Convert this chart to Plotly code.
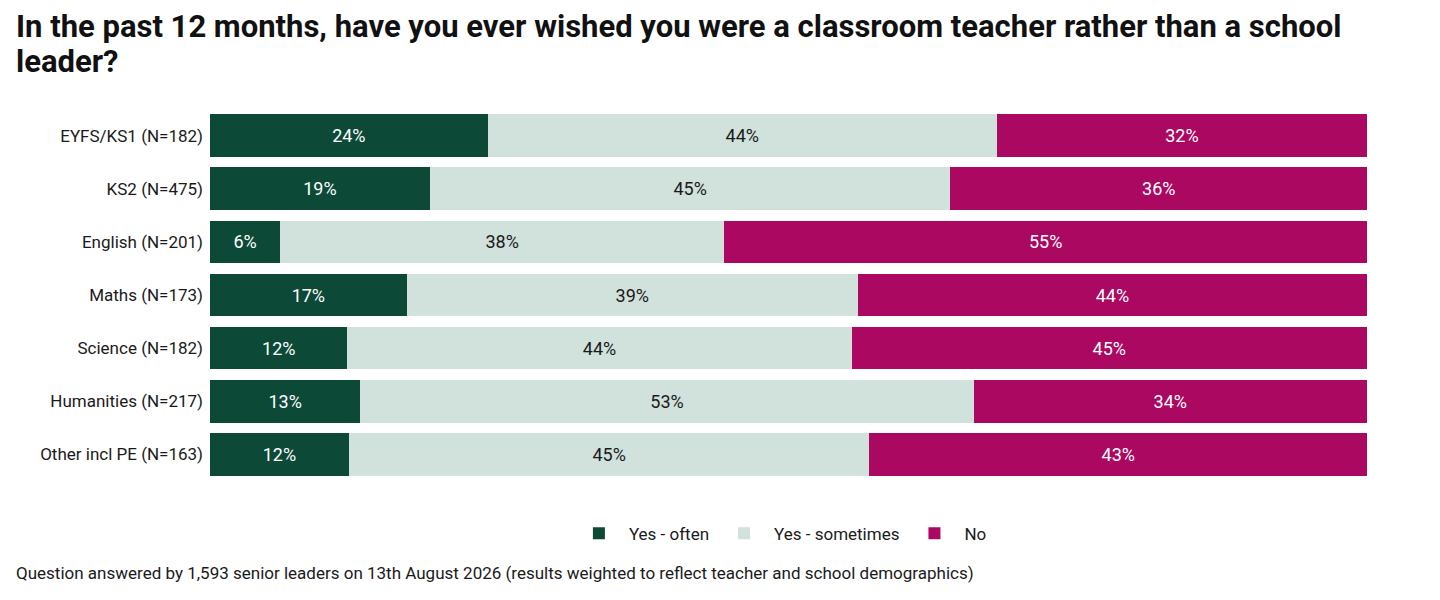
import plotly.graph_objects as go

categorias = ["EYFS/KS1 (N=182)", "KS2 (N=475)", "English (N=201)", "Maths (N=173)",
              "Science (N=182)", "Humanities (N=217)", "Other incl PE (N=163)"]
yes_often = [24, 19, 6, 17, 12, 13, 12]
yes_sometimes = [44, 45, 38, 39, 44, 53, 45]
no = [32, 36, 55, 44, 45, 34, 43]

titulo = ["In the past 12 months, have you ever wished you were a classroom teacher rather than a school",
          "leader?"]
nota = "Question answered by 1,593 senior leaders on 13th August 2026 (results weighted to reflect teacher and school demographics)"

series = [
    ("Yes - often", yes_often, "#0c4a37", "white"),
    ("Yes - sometimes", yes_sometimes, "#d1e1db", "#1a1a1a"),
    ("No", no, "#ab0862", "white"),
]

fig = go.Figure()

for nombre, valores, color, color_texto in series:
    fig.add_trace(go.Bar(
        y=categorias, x=valores, name=nombre, orientation="h",
        marker=dict(color=color, line=dict(width=0)),
        text=[str(v) + "%" for v in valores],
        textposition="inside", insidetextanchor="middle",
        textfont=dict(color=color_texto, size=18),
        hoverinfo="skip",
    ))

fig.update_layout(
    barmode="stack",
    barnorm="percent",
    bargap=0.2,
    width=1440, height=600,
    font=dict(family="Roboto", color="#1a1a1a"),
    margin=dict(l=202, r=81, t=101, b=127),
    plot_bgcolor="white", paper_bgcolor="white",
    legend=dict(orientation="h", x=0.493, xanchor="center", y=-0.142, yanchor="middle",
                font=dict(size=17), traceorder="normal", itemwidth=50),
    showlegend=True,
    uniformtext=dict(mode="show", minsize=10),
)

fig.update_xaxes(visible=False, range=[0, 100])
fig.update_yaxes(autorange="reversed", tickfont=dict(size=17), showgrid=False,
                 ticks="", ticklabelstandoff=6)

# titulo en dos lineas
for i, linea in enumerate(titulo):
    fig.add_annotation(
        text="<b>" + linea + "</b>", xref="paper", yref="paper",
        x=-0.1694, y=1.222 - i * 0.093, xanchor="left", yanchor="middle",
        showarrow=False, font=dict(size=31, color="#111111"),
    )

fig.add_annotation(
    text=nota, xref="paper", yref="paper", x=-0.1694, y=-0.247,
    xanchor="left", yanchor="middle",
    showarrow=False, font=dict(size=17, color="#1a1a1a"),
)

fig.write_html("out.html")
